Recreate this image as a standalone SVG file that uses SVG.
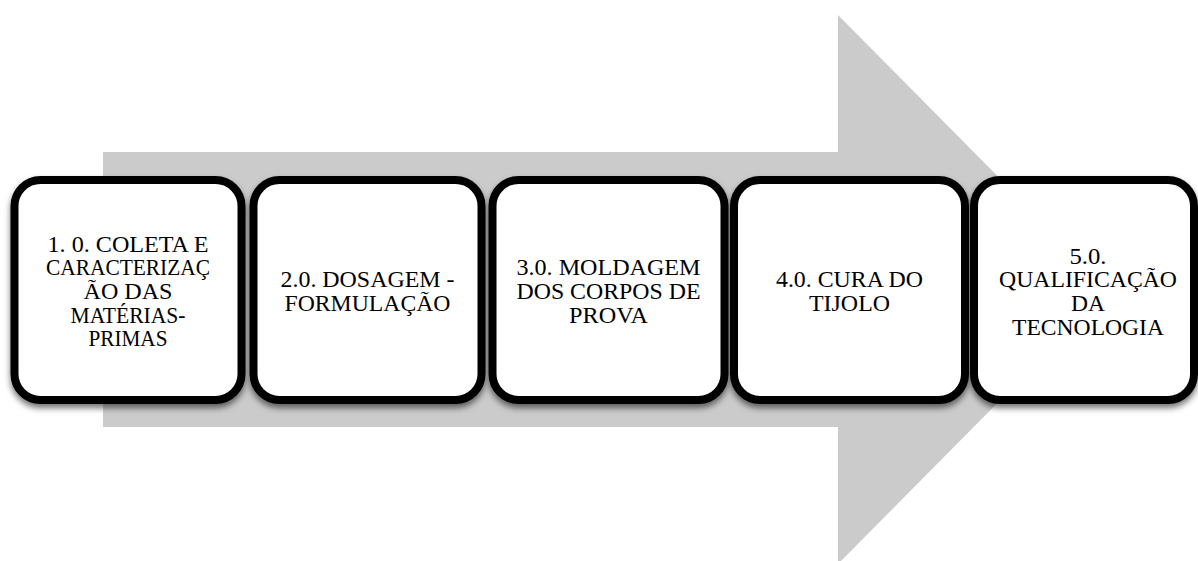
<svg xmlns="http://www.w3.org/2000/svg" width="1198" height="561" viewBox="0 0 1198 561">
<style>
.box{fill:#ffffff;stroke:#000000;stroke-width:8;filter:url(#sh)}
.lbl{font-family:"Liberation Serif","Times New Roman",Times,"Noto Serif","DejaVu Serif",serif;font-size:24px;fill:#000000;text-anchor:middle}
</style>
<defs>
<filter id="sh" x="-10%" y="-10%" width="120%" height="125%">
<feDropShadow dx="0" dy="4" stdDeviation="3" flood-color="#000000" flood-opacity="0.55"/>
</filter>
</defs>
<g id="arrow">
<polygon points="103,152 838,152 838,15 1110,289.5 838,564 838,427 103,427" fill="#cbcbcb"/>
</g>
<g id="connectors"></g>
<g id="node1">
<rect class="box" x="14.5" y="180" width="227" height="220" rx="26" ry="26"/>
<text class="lbl" x="128" y="251.6" textLength="161" lengthAdjust="spacingAndGlyphs">1. 0. COLETA E</text>
<text class="lbl" x="128" y="275.3" textLength="164" lengthAdjust="spacingAndGlyphs">CARACTERIZAÇ</text>
<text class="lbl" x="128" y="299" textLength="89" lengthAdjust="spacingAndGlyphs">ÃO DAS</text>
<text class="lbl" x="128" y="322.7" textLength="115" lengthAdjust="spacingAndGlyphs">MATÉRIAS-</text>
<text class="lbl" x="128" y="346.4" textLength="79" lengthAdjust="spacingAndGlyphs">PRIMAS</text>
</g>
<g id="node2">
<rect class="box" x="253.5" y="180" width="228" height="220" rx="26" ry="26"/>
<text class="lbl" x="367.5" y="287.2" textLength="174" lengthAdjust="spacingAndGlyphs">2.0. DOSAGEM -</text>
<text class="lbl" x="367.5" y="310.9" textLength="166" lengthAdjust="spacingAndGlyphs">FORMULAÇÃO</text>
</g>
<g id="node3">
<rect class="box" x="492.5" y="180" width="232" height="220" rx="26" ry="26"/>
<text class="lbl" x="608.5" y="275.3" textLength="184" lengthAdjust="spacingAndGlyphs">3.0. MOLDAGEM</text>
<text class="lbl" x="608.5" y="299" textLength="184" lengthAdjust="spacingAndGlyphs">DOS CORPOS DE</text>
<text class="lbl" x="608.5" y="322.7" textLength="79" lengthAdjust="spacingAndGlyphs">PROVA</text>
</g>
<g id="node4">
<rect class="box" x="734" y="180" width="231" height="220" rx="26" ry="26"/>
<text class="lbl" x="849.5" y="287.2" textLength="147" lengthAdjust="spacingAndGlyphs">4.0. CURA DO</text>
<text class="lbl" x="849.5" y="310.9" textLength="81" lengthAdjust="spacingAndGlyphs">TIJOLO</text>
</g>
<g id="node5">
<rect class="box" x="974" y="180" width="220" height="220" rx="26" ry="26"/>
<text class="lbl" x="1088" y="263.5" textLength="37" lengthAdjust="spacingAndGlyphs">5.0.</text>
<text class="lbl" x="1088" y="287.2" textLength="178" lengthAdjust="spacingAndGlyphs">QUALIFICAÇÃO</text>
<text class="lbl" x="1088" y="310.8" textLength="34" lengthAdjust="spacingAndGlyphs">DA</text>
<text class="lbl" x="1088" y="334.5" textLength="152" lengthAdjust="spacingAndGlyphs">TECNOLOGIA</text>
</g>
</svg>
